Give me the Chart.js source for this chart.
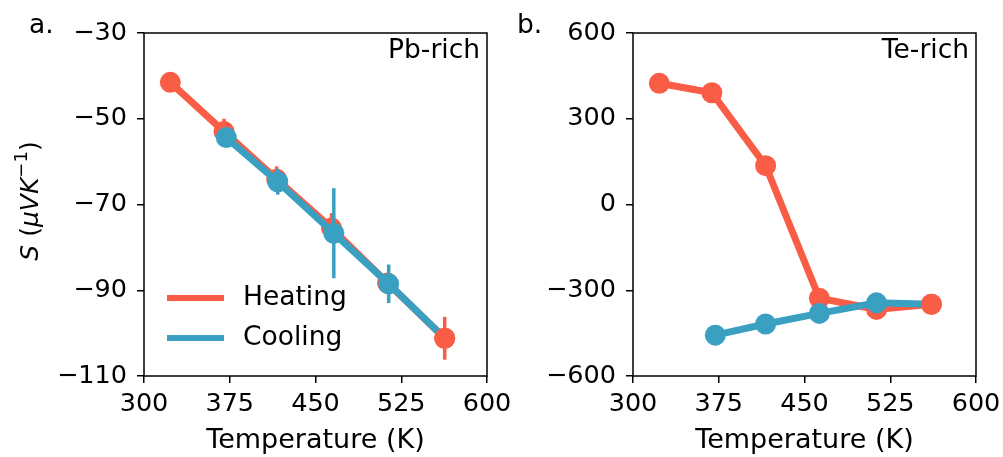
<!DOCTYPE html>
<html>
<head>
<meta charset="utf-8">
<script src="https://cdn.jsdelivr.net/npm/chart.js@4/dist/chart.umd.min.js"></script>
<style>
  html, body { margin: 0; padding: 0; background: #fff; }
  #wrap { position: relative; width: 1003px; height: 457px; overflow: hidden; }
  canvas { position: absolute; top: 0; }
  #left { left: 0; }
  #right { left: 480px; }
</style>
</head>
<body>
<div id="wrap">
  <canvas id="left" width="530" height="457"></canvas>
  <canvas id="right" width="543" height="457"></canvas>
</div>
<script>
// Данные
const tempTicks = [300, 375, 450, 525, 600];
const pbTicks = [-110, -90, -70, -50, -30];
const teTicks = [-600, -300, 0, 300, 600];

// Pb-rich
const pbHeatT = [323, 370, 416, 464, 513, 563];
const pbHeatS = [-41.5, -53.0, -64.1, -75.5, -88.3, -101.2];
const pbHeatErr = [1, 3, 3, 3.5, 2, 5];
const pbCoolT = [372, 417, 466, 514, 563];
const pbCoolS = [-54.4, -64.7, -76.7, -88.5, -101.2];
const pbCoolErr = [2, 3, 10.5, 4.5, 0];

// Te-rich
const teHeatT = [323, 369, 416, 463, 513, 561];
const teHeatS = [424, 391, 136, -328, -367, -349];
const teCoolT = [372, 416, 463, 513, 561];
const teCoolS = [-457, -418, -381, -344, -349];

const RED = '#f95d46';
const BLUE = '#3aa0c2';
const FONT = '"DejaVu Sans", sans-serif';

function pts(xs, ys) {
    return xs.map((x, i) => ({ x: x, y: ys[i] }));
}
function fmt(v) {
    return v < 0 ? '\u2212' + Math.abs(v) : String(v);
}

// рамка, планки погрешностей, подписи
const decor = {
    id: 'decor',
    beforeDatasetDraw(chart, args) {
        const ds = chart.data.datasets[args.index];
        if (!ds.errors) return;
        const ctx = chart.ctx, xs = chart.scales.x, ys = chart.scales.y;
        ctx.save();
        ctx.strokeStyle = ds.borderColor;
        ctx.lineWidth = 3.5;
        ds.data.forEach((p, i) => {
            const e = ds.errors[i];
            if (!e) return;
            const px = xs.getPixelForValue(p.x);
            ctx.beginPath();
            ctx.moveTo(px, ys.getPixelForValue(p.y + e));
            ctx.lineTo(px, ys.getPixelForValue(p.y - e));
            ctx.stroke();
        });
        ctx.restore();
    },
    afterDatasetsDraw(chart) {
        // последний маркер нагрева поверх линии охлаждения
        const meta = chart.getDatasetMeta(0);
        meta.data[meta.data.length - 1].draw(chart.ctx, chart.chartArea);
    },
    afterDraw(chart, args, opts) {
        const ctx = chart.ctx, a = chart.chartArea;
        ctx.save();
        ctx.strokeStyle = '#000';
        ctx.lineWidth = 1.5;
        ctx.strokeRect(a.left, a.top, a.right - a.left, a.bottom - a.top);

        ctx.fillStyle = '#000';
        ctx.font = '26.5px ' + FONT;
        ctx.textBaseline = 'middle';
        ctx.textAlign = 'right';
        ctx.fillText(opts.tag, a.right - 7, a.top + 18);
        ctx.textAlign = 'left';
        ctx.textBaseline = 'alphabetic';
        ctx.fillText(opts.letter, opts.letterX, 33);

        if (opts.legend) {
            ctx.textBaseline = 'middle';
            chart.data.datasets.forEach((ds, i) => {
                const y = 298 + i * 40;
                ctx.strokeStyle = ds.borderColor;
                ctx.lineWidth = 6;
                ctx.beginPath();
                ctx.moveTo(167, y);
                ctx.lineTo(224, y);
                ctx.stroke();
                ctx.fillStyle = '#000';
                ctx.fillText(ds.label, 243, y);
            });
        }

        if (opts.ylabel) {
            ctx.translate(38, 201);
            ctx.rotate(-Math.PI / 2);
            ctx.textBaseline = 'alphabetic';
            const parts = [
                ['italic 25px ' + FONT, 'S', 0],
                ['25px ' + FONT, ' (', 0],
                ['italic 25px ' + FONT, '\u03bcVK', 0],
                ['18px ' + FONT, '\u22121', -11],
                ['25px ' + FONT, ')', 0]
            ];
            let w = 0;
            parts.forEach(p => { ctx.font = p[0]; w += ctx.measureText(p[1]).width; });
            let x = -w / 2;
            parts.forEach(p => {
                ctx.font = p[0];
                ctx.fillText(p[1], x, p[2]);
                x += ctx.measureText(p[1]).width;
            });
        }
        ctx.restore();
    }
};

function makeChart(id, heat, cool, yTicks, padRight, yWidth, opts) {
    const tickFont = { family: FONT, size: 25.5 };
    return new Chart(document.getElementById(id), {
        type: 'line',
        data: {
            datasets: [
                {
                    label: 'Heating', data: heat.data, errors: heat.err,
                    borderColor: RED, backgroundColor: RED,
                    borderWidth: 7, pointRadius: 10.5, pointHoverRadius: 10.5,
                    pointBorderWidth: 0, order: 2
                },
                {
                    label: 'Cooling', data: cool.data, errors: cool.err,
                    borderColor: BLUE, backgroundColor: BLUE,
                    borderWidth: 7, pointHoverRadius: 10.5,
                    pointRadius: cool.data.map((p, i) => i === cool.data.length - 1 ? 0 : 10.5),
                    pointBorderWidth: 0, order: 1
                }
            ]
        },
        options: {
            responsive: false,
            animation: false,
            events: [],
            layout: { padding: { left: 0, top: 33, right: padRight, bottom: 0 } },
            plugins: { legend: { display: false }, tooltip: { enabled: false }, decor: opts },
            scales: {
                x: {
                    type: 'linear', min: 300, max: 600,
                    afterBuildTicks: s => { s.ticks = tempTicks.map(v => ({ value: v })); },
                    afterFit: s => { s.height = 81; },
                    border: { display: false },
                    grid: { drawOnChartArea: false, tickLength: 7, color: '#000', lineWidth: 1.5 },
                    ticks: { color: '#000', font: tickFont, padding: 6, maxRotation: 0, callback: v => fmt(v) },
                    title: { display: true, text: 'Temperature (K)', color: '#000',
                             font: { family: FONT, size: 27, lineHeight: 1.2 }, padding: { top: 0, bottom: 0 } }
                },
                y: {
                    type: 'linear', min: yTicks[0], max: yTicks[yTicks.length - 1],
                    afterBuildTicks: s => { s.ticks = yTicks.map(v => ({ value: v })); },
                    afterFit: s => { s.width = yWidth; },
                    border: { display: false },
                    grid: { drawOnChartArea: false, tickLength: 7, color: '#000', lineWidth: 1.5 },
                    ticks: { color: '#000', font: tickFont, padding: 10, callback: v => fmt(v) }
                }
            }
        },
        plugins: [decor]
    });
}

makeChart('left',
    { data: pts(pbHeatT, pbHeatS), err: pbHeatErr },
    { data: pts(pbCoolT, pbCoolS), err: pbCoolErr },
    pbTicks, 43, 144,
    { tag: 'Pb-rich', letter: 'a.', letterX: 29, legend: true, ylabel: true });

makeChart('right',
    { data: pts(teHeatT, teHeatS), err: null },
    { data: pts(teCoolT, teCoolS), err: null },
    teTicks, 47, 153,
    { tag: 'Te-rich', letter: 'b.', letterX: 37, legend: false, ylabel: false });
</script>
</body>
</html>
